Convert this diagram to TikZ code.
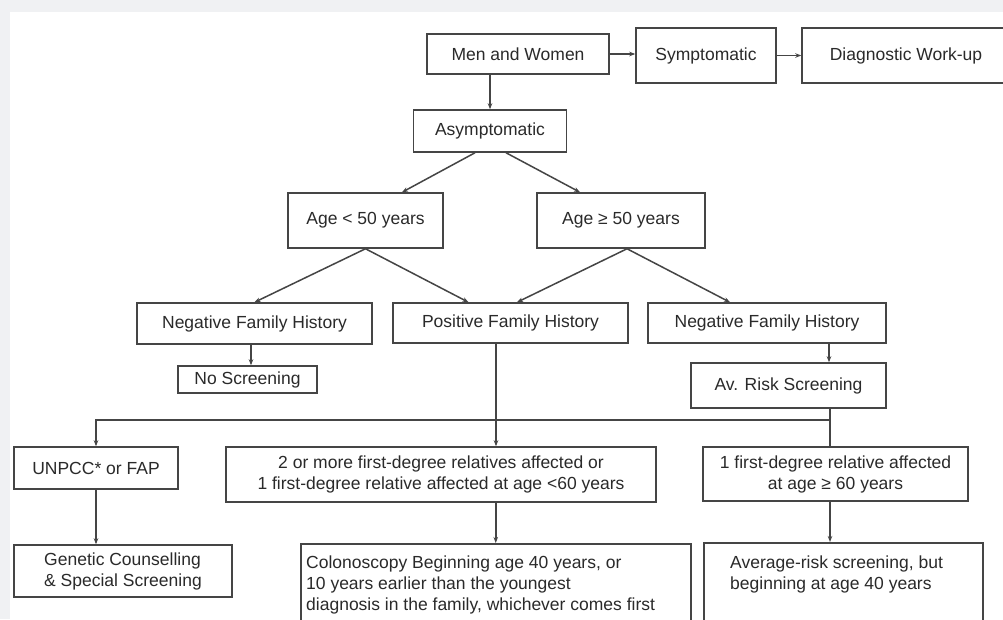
\documentclass[tikz,border=0pt]{standalone}
\usepackage{fontspec}
\setmainfont{Liberation Sans}
\usetikzlibrary{arrows.meta}
\definecolor{bgband}{HTML}{F0F1F3}
\definecolor{edge}{HTML}{454545}
\definecolor{ink}{HTML}{2A2A2A}
\begin{document}
\begin{tikzpicture}[x=1pt,y=-1pt,
  box/.style={draw=edge, line width=1.5pt, inner sep=0pt, text=ink,
    font=\fontsize{17.5}{21}\selectfont, align=center},
  txt/.style={inner sep=0pt, text=ink, font=\fontsize{17.5}{21}\selectfont, align=left},
  conn/.style={draw=edge, line width=1.5pt},
  arr/.style={conn, -{Stealth[length=6pt,width=4.5pt]}}]
\fill[bgband] (0,0) rectangle (1003,619);
\fill[white] (10,12) rectangle (1003,619);
\useasboundingbox (0,0) rectangle (1003,619);

\node[box, minimum width=182pt, minimum height=40pt] (men) at (518,54) {Men and Women};
\node[box, minimum width=140pt, minimum height=55pt] (sym) at (706,55.5) {Symptomatic};
\node[box, minimum width=208pt, minimum height=55pt] (diag) at (906,55.5) {Diagnostic Work-up};
\node[box, minimum width=153pt, minimum height=42pt] (asym) at (490,131) {Asymptomatic};
\node[box, minimum width=155pt, minimum height=55pt] (age1) at (365.5,220.5) {Age < 50 years};
\node[box, minimum width=168pt, minimum height=55pt] (age2) at (621,220.5) {Age ≥ 50 years};
\node[box, minimum width=235pt, minimum height=41pt] (neg1) at (254.5,323.5) {Negative Family History};
\node[box, minimum width=235pt, minimum height=40pt] (pos) at (510.5,323) {Positive Family History};
\node[box, minimum width=238pt, minimum height=40pt] (neg2) at (767,323) {Negative Family History};
\node[box, minimum width=139pt, minimum height=27pt] (noscr) at (247.5,379.5) {No Screening};
\node[box, minimum width=195pt, minimum height=45pt] (avrisk) at (788.5,385.5) {Av. Risk Screening};
\node[box, minimum width=164pt, minimum height=42pt] (unpcc) at (96,468) {UNPCC* or FAP};
\node[box, minimum width=430pt, minimum height=55pt] (two) at (441,474.5) {2 or more first-degree relatives affected or\\1 first-degree relative affected at age <60 years};
\node[box, minimum width=265pt, minimum height=54pt] (one) at (835.5,474) {1 first-degree relative affected\\at age ≥ 60 years};
\node[box, minimum width=218pt, minimum height=52pt, align=left] (gen) at (123,571) {Genetic Counselling\\\& Special Screening};
\node[box, minimum width=390pt, minimum height=100pt, anchor=north west] (colo) at (300,543) {};
\node[txt, anchor=north west] (colotext) at (306,556) {Colonoscopy Beginning age 40 years, or\\10 years earlier than the youngest\\diagnosis in the family, whichever comes first};
\node[box, minimum width=279pt, minimum height=100pt, anchor=north west] (avg) at (703,542) {};
\node[txt, anchor=north west] (avgtext) at (730,556) {Average-risk screening, but\\beginning at age 40 years};

\coordinate (split) at (830,420);
\coordinate (leftend) at (96,420);

\draw[arr] (men.east) -- (men.east -| sym.west);
\draw[arr] (sym.east) -- (diag.west);
\draw[arr] (men.south -| asym.north) -- (asym.north);
\draw[arr] ([xshift=-15pt]asym.south) -- ([xshift=36.5pt]age1.north);
\draw[arr] ([xshift=16pt]asym.south) -- ([xshift=-41pt]age2.north);
\draw[arr] (age1.south) -- (neg1.north);
\draw[arr] (age1.south) -- ([xshift=-42pt]pos.north);
\draw[arr] ([xshift=6pt]age2.south) -- ([xshift=6.5pt]pos.north);
\draw[arr] ([xshift=6pt]age2.south) -- ([xshift=-37pt]neg2.north);
\draw[arr] ([xshift=-3.5pt]neg1.south) -- ([xshift=-3.5pt]neg1.south |- noscr.north);
\draw[arr] ([xshift=62pt]neg2.south) -- ([xshift=62pt]neg2.south |- avrisk.north);
\draw[conn] (avrisk.south -| split) -- (split) -- (split |- one.north);
\draw[arr] (split) -- (leftend) -- (unpcc.north);
\draw[arr] ([xshift=-14.5pt]pos.south) -- ([xshift=-14.5pt]pos.south |- two.north);
\draw[arr] (unpcc.south) -- (unpcc.south |- gen.north);
\draw[arr] (two.south -| colo.north) -- (colo.north);
\draw[arr] (one.south -| split) -- (split |- avg.north);
\end{tikzpicture}
\end{document}
